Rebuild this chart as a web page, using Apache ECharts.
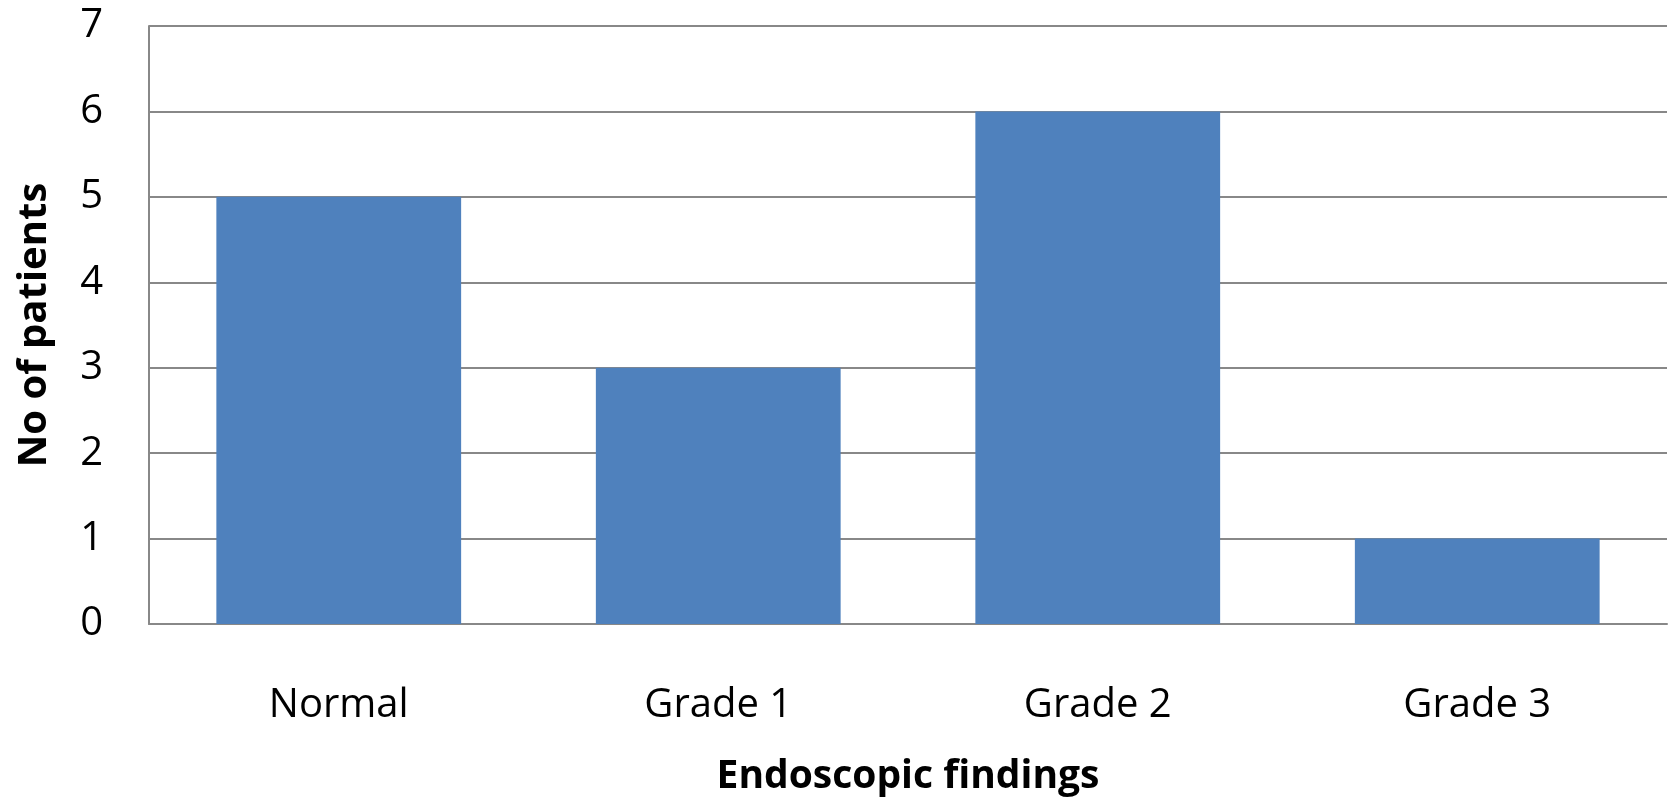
<!DOCTYPE html>
<html>
<head>
<meta charset="utf-8">
<script src="https://cdn.jsdelivr.net/npm/echarts@6/dist/echarts.min.js"></script>
<style>
  html, body { margin: 0; padding: 0; background: #ffffff; }
  #chart { width: 1675px; height: 803px; }
</style>
</head>
<body>
<div id="chart"></div>
<script>
// Endoscopic findings vs number of patients
const categories = ['Normal', 'Grade 1', 'Grade 2', 'Grade 3'];
const patients = [5, 3, 6, 1];
const yTicks = [0, 1, 2, 3, 4, 5, 6, 7];

const FONT = 'Open Sans';
const chart = echarts.init(document.getElementById('chart'));
chart.setOption({
  animation: false,
  backgroundColor: '#ffffff',
  grid: { left: 149, right: 8, top: 26, bottom: 179, containLabel: false, outerBoundsMode: 'none' },
  xAxis: {
    type: 'category',
    data: categories,
    name: 'Endoscopic findings',
    nameLocation: 'middle',
    nameGap: 133,
    nameTextStyle: { fontFamily: FONT, fontSize: 39, fontWeight: 'bold', color: '#000' },
    axisLine: { lineStyle: { color: '#888888', width: 2 } },
    axisTick: { show: false },
    axisLabel: { fontFamily: FONT, fontSize: 40, color: '#000', margin: 62 }
  },
  yAxis: {
    type: 'value',
    min: yTicks[0],
    max: yTicks[yTicks.length - 1],
    interval: 1,
    name: 'No of patients',
    nameLocation: 'middle',
    nameGap: 94,
    nameTextStyle: { fontFamily: FONT, fontSize: 40, fontWeight: 'bold', color: '#000' },
    axisLine: { show: true, lineStyle: { color: '#888888', width: 2 } },
    axisTick: { show: false },
    axisLabel: { fontFamily: FONT, fontSize: 40, color: '#000', margin: 46, padding: [10, 0, 0, 0] },
    splitLine: { lineStyle: { color: '#888888', width: 2 } }
  },
  series: [{
    type: 'bar',
    data: patients,
    barWidth: '64.5%',
    itemStyle: { color: '#4F81BD' }
  }]
});
</script>
</body>
</html>
